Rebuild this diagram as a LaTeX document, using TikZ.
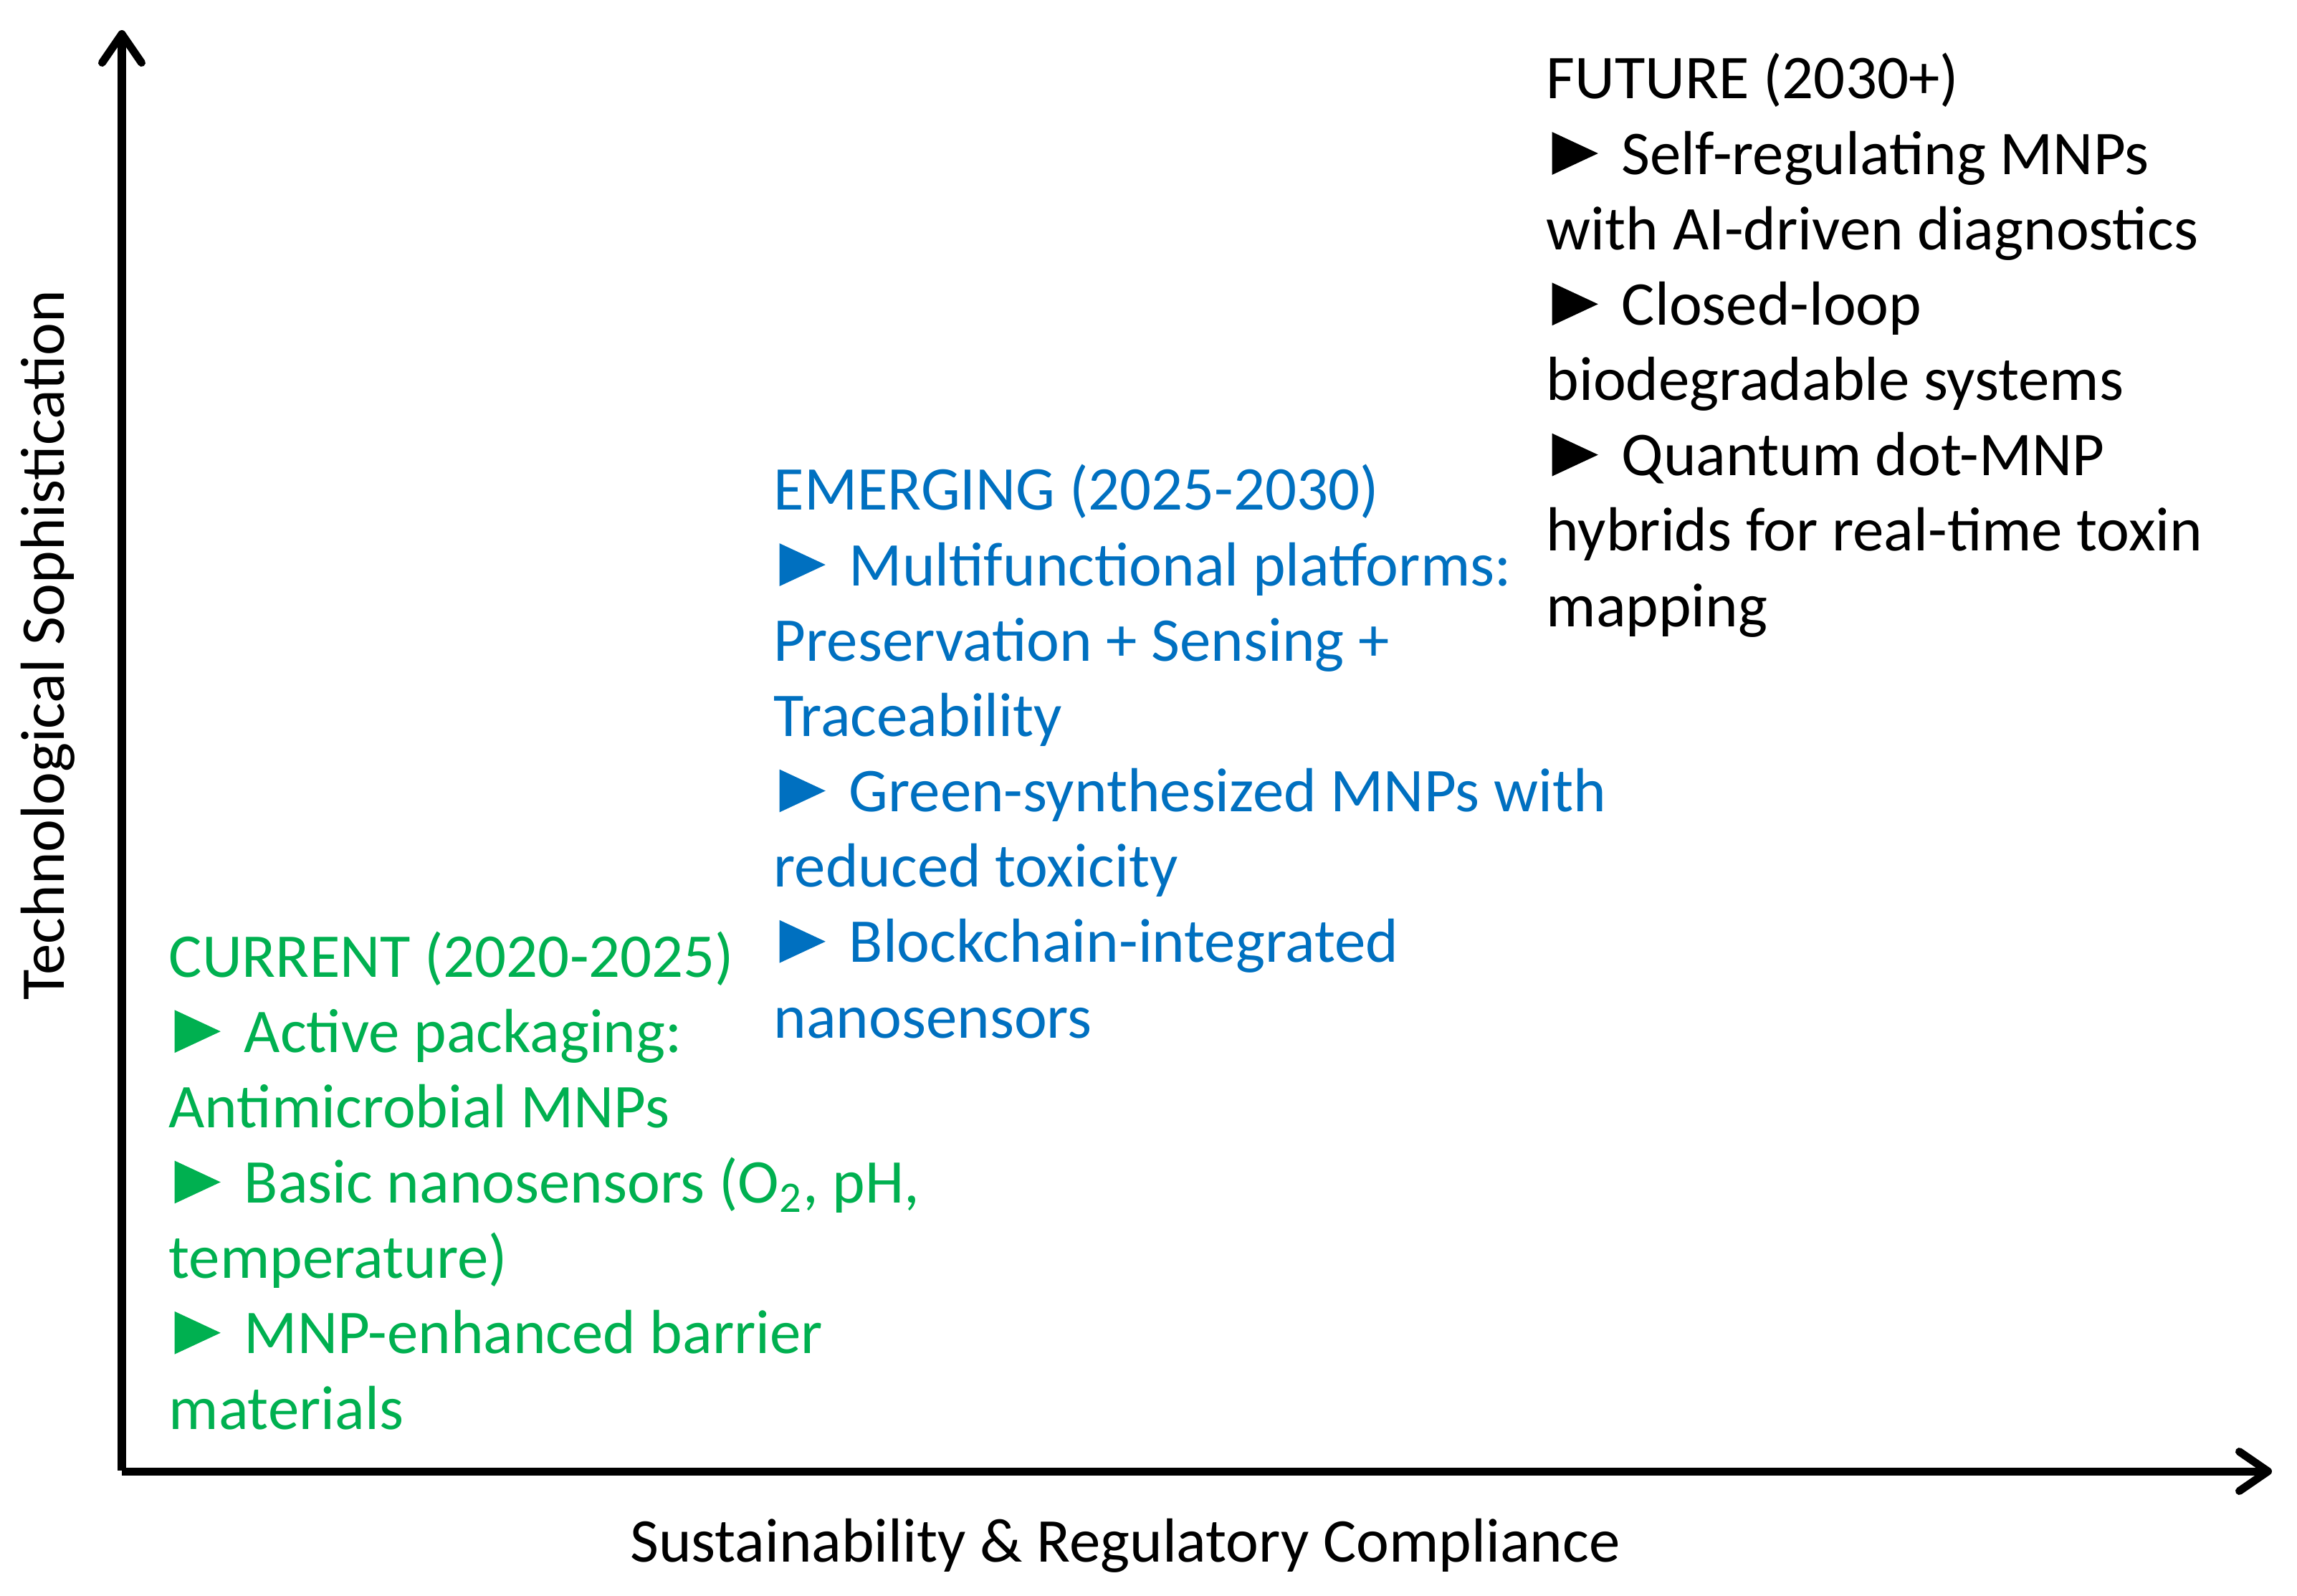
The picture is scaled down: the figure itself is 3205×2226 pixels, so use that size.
\documentclass[tikz,border=0pt]{standalone}
\usepackage{fontspec}
\setmainfont{Carlito}
\usetikzlibrary{arrows.meta}
\definecolor{curgreen}{HTML}{00B050}
\definecolor{emblue}{HTML}{0070C0}
\newcommand{\tri}[1]{\hspace{0.09em}\tikz[baseline=0pt]\fill[#1] (0pt,-0.01em)--(0pt,0.68em)--(0.74em,0.335em)--cycle;\hspace{0.38em}}
\tikzset{
  axisarrow/.style={line width=0.11cm, line cap=butt,
    -{Straight Barb[length=0.4cm,width=0.55cm,line cap=round,line join=round]}},
  block/.style={anchor=base west, inner sep=0pt, align=left,
    font=\fontsize{24.7pt}{29.9pt}\selectfont},
  lbl/.style={inner sep=0pt, font=\fontsize{24.7pt}{29.9pt}\selectfont}
}
\begin{document}
\begin{tikzpicture}[x=0.01cm,y=-0.01cm]
\useasboundingbox (0,0) rectangle (3205,2226);
\coordinate (Oy) at (170,2052);
\coordinate (Ox) at (170,2053);
\coordinate (ytop) at (170,42);
\coordinate (xend) at (3170,2053);
\draw[axisarrow] (Oy) -- (ytop);
\draw[axisarrow] (Ox) -- (xend);

\node[lbl, rotate=90] (ylab) at (67,900) {Technological Sophistication};
\node[lbl, anchor=base] (xlab) at (1570,2179) {Sustainability \& Regulatory Compliance};

% anchor = baseline of the last line
\node[block, text=curgreen] (current) at (235,1994) {CURRENT (2020-2025)\\
\tri{curgreen}Active packaging:\\
Antimicrobial MNPs\\
\tri{curgreen}Basic nanosensors (O\textsubscript{2}, pH,\\
temperature)\\
\tri{curgreen}MNP-enhanced barrier\\
materials};

\node[block, text=emblue] (emerging) at (1079,1448) {EMERGING (2025-2030)\\
\tri{emblue}Multifunctional platforms:\\
Preservation + Sensing +\\
Traceability\\
\tri{emblue}Green-synthesized MNPs with\\
reduced toxicity\\
\tri{emblue}Blockchain-integrated\\
nanosensors};

\node[block, text=black] (future) at (2157,874) {FUTURE (2030+)\\
\tri{black}Self-regulating MNPs\\
with AI-driven diagnostics\\
\tri{black}Closed-loop\\
biodegradable systems\\
\tri{black}Quantum dot-MNP\\
hybrids for real-time toxin\\
mapping};
\end{tikzpicture}
\end{document}
